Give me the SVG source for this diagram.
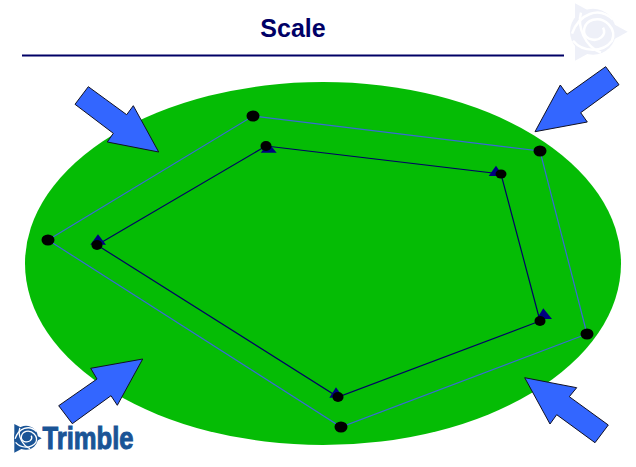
<svg xmlns="http://www.w3.org/2000/svg" width="636" height="467" viewBox="0 0 636 467">
<style>
.title{font:bold 25px "Liberation Sans",Arial,sans-serif;fill:#000066;text-anchor:middle}
.arrow{fill:#3366ff;stroke:#111122;stroke-width:1;stroke-linejoin:miter}
.outer{fill:none;stroke:#3a6ad6;stroke-width:1.200}
.inner{fill:none;stroke:#000066;stroke-width:1.200}
.tri{fill:#000080}
.dot{fill:#000}
.swirl{fill:none;stroke:#fff;stroke-width:2.500}
.brand{font:bold 31px "Liberation Sans",Arial,sans-serif;fill:#1a5496;stroke:#1a5496;stroke-width:1}
</style>
<defs>
<g id="sphere">
<circle cx="0" cy="0" r="23"/>
<g class="swirl">
<path d="M-21 2C-14 -18 6 -26 20 -12"/>
<path d="M-20 9C-10 21 10 21 19 9C24 -3 12 -15 0 -12C-10 -9 -12 3 -4 7C6 11 14 3 10 -4"/>
<path d="M-12 -19C-16 -5 -8 15 8 21"/>
</g>
</g>
</defs>
<g id="watermark" fill="#eef0f8">
<path d="M575 3.300L627.700 31.700L575 60.700Z"/>
<use href="#sphere" transform="translate(593 31.700)"/>
</g>
<g id="title"><text class="title" x="293" y="37">Scale</text><rect x="22" y="54.500" width="542" height="2" fill="#000066"/></g>
<g id="field"><ellipse cx="323" cy="263.500" rx="298" ry="181.500" fill="#05bc05"/></g>
<g id="connectors">
<polygon class="outer" points="253,116 540,151 587,334 341,427 48,240"/>
<polygon class="inner" points="266,146 501,174 540,321 338,397 97,245"/>
</g>
<g id="arrow-top-left"><polygon class="arrow" points="88.300,86.700 75,104.300 113.300,133.300 107.300,142 158.700,152 133.300,105.700 126.700,114.700"/></g>
<g id="arrow-top-right"><polygon class="arrow" points="605.700,66.700 619,84.700 580.700,112.700 587.300,122 535,131.700 560.300,85 567,94.300"/></g>
<g id="arrow-bottom-right"><polygon class="arrow" points="524.700,377.700 576.700,387.700 569.300,396.700 608.300,425 595,442.700 556.700,414.700 550,424"/></g>
<g id="arrow-bottom-left"><polygon class="arrow" points="142.700,359 90.700,368.300 97,379 58.700,405.700 72.300,423.700 111,395.700 117.300,405.300"/></g>
<g id="outer-points">
<ellipse class="dot" cx="253" cy="116" rx="6.500" ry="5.500"/>
<ellipse class="dot" cx="540" cy="151" rx="6.500" ry="5.500"/>
<ellipse class="dot" cx="587" cy="334" rx="6.500" ry="5.500"/>
<ellipse class="dot" cx="341" cy="427" rx="6.500" ry="5.500"/>
<ellipse class="dot" cx="48" cy="240" rx="6.500" ry="5.500"/>
</g>
<g id="inner-triangles">
<polygon class="tri" points="268.500,143 260.700,152.700 276.700,152.700"/>
<polygon class="tri" points="496,165.700 488.700,176 503,176"/>
<polygon class="tri" points="543.300,308.300 536.700,319 552,319"/>
<polygon class="tri" points="336,387.300 329.300,397.700 343.300,397.700"/>
<polygon class="tri" points="98,234.300 90.300,244.700 106,244.700"/>
</g>
<g id="inner-points">
<ellipse class="dot" cx="266" cy="146" rx="5.500" ry="5"/>
<ellipse class="dot" cx="501" cy="174" rx="5.500" ry="4.500"/>
<ellipse class="dot" cx="540" cy="321" rx="5.500" ry="5"/>
<ellipse class="dot" cx="338" cy="397" rx="5.500" ry="5"/>
<ellipse class="dot" cx="97" cy="245" rx="5.500" ry="5"/>
</g>
<g id="logo" fill="#1a5496">
<path d="M14.300 424L41.700 438.300L14.300 452.700Z"/>
<use href="#sphere" transform="translate(26 437.700) scale(.52)"/>
<text class="brand" x="42.500" y="449" textLength="91" lengthAdjust="spacingAndGlyphs">Trimble</text>
</g>
</svg>
